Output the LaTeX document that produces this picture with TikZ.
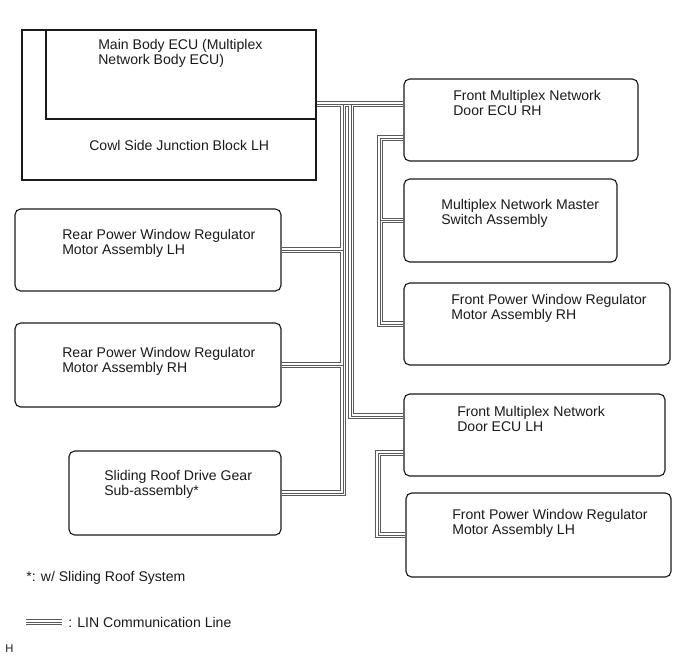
\documentclass[tikz,border=0pt]{standalone}
\usepackage{fontspec}
\setmainfont{Liberation Sans}
\usetikzlibrary{calc,backgrounds}
\definecolor{wire}{HTML}{5A5A5A}
\definecolor{ink}{HTML}{1A1A1A}
\tikzset{fig/.style={line join=miter,x=0.025cm,y=-0.025cm},
  unit/.style 2 args={draw=ink,line width=0.8pt,rounded corners=4pt,inner sep=0pt,
    minimum width=#1*0.025cm,minimum height=#2*0.025cm},
  blk/.style 2 args={unit={#1}{#2},sharp corners},
  txt/.style={anchor=north west,align=left,inner sep=0pt,text=ink,font=\fontsize{10}{10.4}\selectfont}}

\begin{document}
\begin{tikzpicture}[fig]
  \useasboundingbox (0,0) rectangle (688,658);
  % boxes
  \node[blk={294}{150}] (cowl) at (169,105) {};
  \node[blk={270}{89}] (mainecu) at (181,74.5) {};
  \node[unit={234}{82}] (doorrh) at (521,120) {};
  \node[unit={213}{83}] (master) at (510.5,220.5) {};
  \node[unit={266}{82}] (pwrh) at (537,324) {};
  \node[unit={261}{82}] (doorlh) at (534.5,435) {};
  \node[unit={265}{84}] (pwlh) at (538.5,535) {};
  \node[unit={266}{82}] (rearlh) at (148,250) {};
  \node[unit={266}{84}] (rearrh) at (148,365) {};
  \node[unit={212}{84}] (roof) at (175,493) {};
  % labels
  \node[txt] (mainecu-t) at (98,39) {Main Body ECU (Multiplex\\Network Body ECU)};
  \node[txt,anchor=west] (cowl-t) at (89,145) {Cowl Side Junction Block LH};
  \node[txt] (doorrh-t) at (453,90) {Front Multiplex Network\\Door ECU RH};
  \node[txt] (master-t) at (441,199) {Multiplex Network Master\\Switch Assembly};
  \node[txt] (pwrh-t) at (451,294) {Front Power Window Regulator\\Motor Assembly RH};
  \node[txt] (doorlh-t) at (457,406) {Front Multiplex Network\\Door ECU LH};
  \node[txt] (pwlh-t) at (452,509) {Front Power Window Regulator\\Motor Assembly LH};
  \node[txt] (rearlh-t) at (62,229) {Rear Power Window Regulator\\Motor Assembly LH};
  \node[txt] (rearrh-t) at (62,347) {Rear Power Window Regulator\\Motor Assembly RH};
  \node[txt] (roof-t) at (104,470) {Sliding Roof Drive Gear\\Sub-assembly*};
  \node[txt,anchor=west] (note) at (26,578) {*: w/ Sliding Roof System};
  \node[txt,anchor=west] (key-t) at (68,622) {: LIN Communication Line};
  \node[txt,anchor=west,font=\fontsize{8}{8}\selectfont] (fig-id) at (5,649) {H};
  % LIN lines
  \coordinate (ta) at (343,104);
  \coordinate (tb) at (351,104);
  \coordinate (tr) at (380,138);
  \coordinate (tl) at (378,453);
  \coordinate (keyl) at (26,622);
  \coordinate (keyr) at (62,622);
  \begin{scope}[on background layer]
  \foreach \w/\c in {3.8pt/wire,2.6pt/white,0.6pt/wire}{
    \draw[line width=\w,draw=\c] (mainecu.east|-ta)--(doorrh.west|-ta);
    \draw[line width=\w,draw=\c] (ta)|-(roof.east);
    \draw[line width=\w,draw=\c] (ta|-rearlh.east)--(rearlh.east);
    \draw[line width=\w,draw=\c] (ta|-rearrh.east)--(rearrh.east);
    \draw[line width=\w,draw=\c] (tb)|-($(doorlh.west)+(0,-19)$);
    \draw[line width=\w,draw=\c] (doorrh.west|-tr)-|(tr|-pwrh.west)--(pwrh.west);
    \draw[line width=\w,draw=\c] (tr|-master.west)--(master.west);
    \draw[line width=\w,draw=\c] (doorlh.west|-tl)-|(tl|-pwlh.west)--(pwlh.west);
    \draw[line width=\w,draw=\c] (keyl)--(keyr);
  }
  \end{scope}
\end{tikzpicture}
\end{document}
